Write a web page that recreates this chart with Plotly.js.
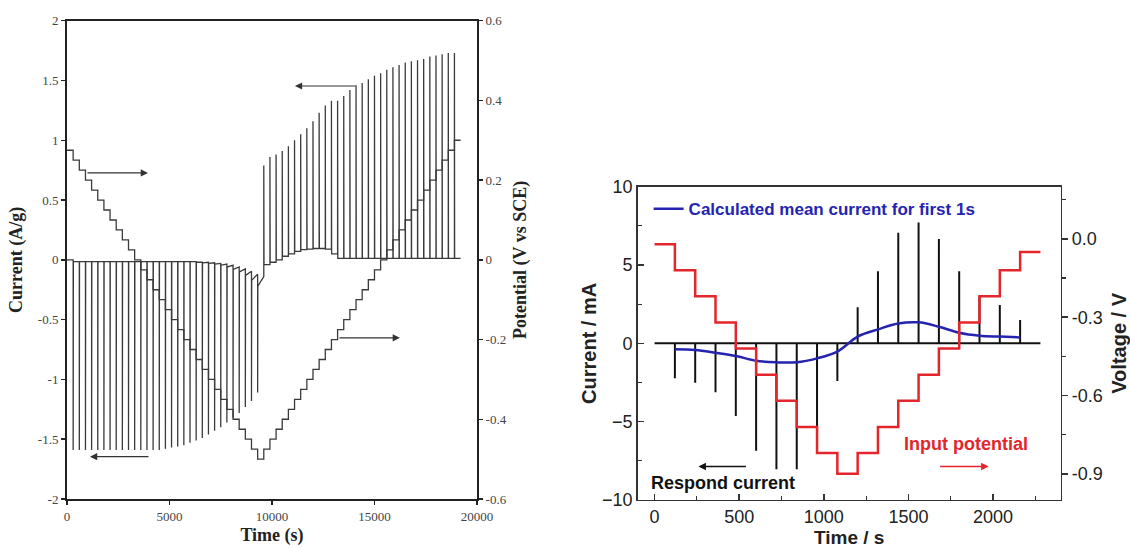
<!DOCTYPE html>
<html>
<head>
<meta charset="utf-8">
<script src="https://cdn.plot.ly/plotly-3.0.1.min.js"></script>
<style>
html,body{margin:0;padding:0;background:#fff;}
#chart{width:1130px;height:549px;}
</style>
</head>
<body>
<div id="chart"></div>
<script>
// ---------- LEFT PANEL DATA ----------
// Potential staircase (V vs SCE): step times (s) and levels
const potTimes = [0,300,600,900,1200,1500,1800,2100,2400,2700,3000,3300,3600,3900,4200,4500,4800,5100,5400,5700,6000,6300,6600,6900,7200,7500,7800,8100,8400,8700,9000,9300,
  9600,9900,10200,10500,10800,11100,11400,11700,12000,12300,12600,12900,13200,13500,13800,14100,14400,14700,15000,15300,15600,15900,16200,16500,16800,17100,17400,17700,18000,18300,18600,18900,19200];
const potLevels = [0.275,0.25,0.225,0.2,0.175,0.15,0.125,0.1,0.075,0.05,0.025,0,-0.025,-0.05,-0.075,-0.1,-0.125,-0.15,-0.175,-0.2,-0.225,-0.25,-0.275,-0.3,-0.325,-0.35,-0.375,-0.4,-0.425,-0.45,-0.475,-0.5,
  -0.475,-0.45,-0.425,-0.4,-0.375,-0.35,-0.325,-0.3,-0.275,-0.25,-0.225,-0.2,-0.175,-0.15,-0.125,-0.1,-0.075,-0.05,-0.025,0,0.025,0.05,0.075,0.1,0.125,0.15,0.175,0.2,0.225,0.25,0.275,0.3,0.3];

// Negative current spikes (A/g)
const negSpikeT = [300,600,900,1200,1500,1800,2100,2400,2700,3000,3300,3600,3900,4200,4500,4800,5100,5400,5700,6000,6300,6600,6900,7200,7500,7800,8100,8400,8700,9000,9300];
const negSpikePeak = [-1.59,-1.59,-1.59,-1.59,-1.59,-1.59,-1.59,-1.59,-1.59,-1.59,-1.59,-1.59,-1.59,-1.59,-1.59,-1.58,-1.57,-1.56,-1.55,-1.53,-1.51,-1.49,-1.46,-1.43,-1.40,-1.36,-1.32,-1.28,-1.23,-1.18,-1.11];
const negTailStart = [-0.015,-0.015,-0.015,-0.015,-0.015,-0.015,-0.015,-0.015,-0.015,-0.015,-0.015,-0.015,-0.015,-0.015,-0.015,-0.015,-0.015,-0.015,-0.015,-0.015,-0.02,-0.025,-0.03,-0.035,-0.045,-0.06,-0.08,-0.10,-0.13,-0.17,-0.22];
const negTailEnd = [-0.015,-0.015,-0.015,-0.015,-0.015,-0.015,-0.015,-0.015,-0.015,-0.015,-0.015,-0.015,-0.015,-0.015,-0.015,-0.015,-0.015,-0.015,-0.015,-0.015,-0.02,-0.02,-0.025,-0.03,-0.035,-0.045,-0.06,-0.075,-0.095,-0.12,-0.14];
// Positive current spikes (A/g)
const posSpikeT = [9600,9900,10200,10500,10800,11100,11400,11700,12000,12300,12600,12900,13200,13500,13800,14100,14400,14700,15000,15300,15600,15900,16200,16500,16800,17100,17400,17700,18000,18300,18600,18900];
const posSpikePeak = [0.79,0.86,0.88,0.91,0.95,1.00,1.05,1.10,1.16,1.23,1.29,1.33,1.33,1.37,1.42,1.46,1.48,1.51,1.54,1.56,1.59,1.61,1.63,1.65,1.66,1.67,1.68,1.70,1.71,1.72,1.73,1.73];
const posTail = [-0.04,-0.02,0.0,0.03,0.05,0.07,0.085,0.09,0.095,0.095,0.09,0.05,0.012,0.012,0.012,0.012,0.012,0.012,0.012,0.012,0.012,0.012,0.012,0.012,0.012,0.012,0.012,0.012,0.012,0.012,0.012,0.012];
const leftEndTime = 19200;

const leftXTicks = [0,5000,10000,15000,20000];
const leftXTickText = ['0','5000','10000','15000','20000'];
const leftYTicks = [2,1.5,1,0.5,0,-0.5,-1,-1.5,-2];
const leftYTickText = ['2','1.5','1','0.5','0','-0.5','-1','-1.5','-2'];
const potTicks = [0.6,0.4,0.2,0,-0.2,-0.4,-0.6];
const potTickText = ['0.6','0.4','0.2','0','-0.2','-0.4','-0.6'];

// ---------- RIGHT PANEL DATA ----------
const rSpikeT = [120,240,360,480,600,720,840,960,1080,1200,1320,1440,1560,1680,1800,1920,2040,2160];
const rSpikePeak = [-2.23,-2.51,-3.13,-4.64,-6.85,-8.04,-8.04,-5.90,-2.40,2.30,4.61,7.06,7.72,6.66,4.61,3.00,2.45,1.49];
const rMeanCurrent = [-0.38,-0.42,-0.60,-0.81,-1.11,-1.21,-1.21,-0.96,-0.53,0.43,0.89,1.27,1.34,1.06,0.68,0.49,0.43,0.38];
const rBaseStart = 0, rBaseEnd = 2280;
const vTimes = [0,120,240,360,480,600,720,840,960,1080,1200,1320,1440,1560,1680,1800,1920,2040,2160,2280];
const vLevels = [-0.02,-0.12,-0.22,-0.32,-0.42,-0.52,-0.62,-0.72,-0.82,-0.90,-0.82,-0.72,-0.62,-0.52,-0.42,-0.32,-0.22,-0.12,-0.05,-0.05];
const rXTicks = [0,500,1000,1500,2000];
const rYTicks = [-10,-5,0,5,10];
const vTicks = [0,-0.3,-0.6,-0.9];
const vTickText = ['0.0','-0.3','-0.6','-0.9'];

// ---------- build left current path ----------
const lcx = [0], lcy = [0];
let prev = 0;
for (let i = 0; i < negSpikeT.length; i++) {
  const t = negSpikeT[i];
  lcx.push(t, t, t + 10); lcy.push(prev, negSpikePeak[i], negTailStart[i]);
  prev = negTailEnd[i];
}
for (let i = 0; i < posSpikeT.length; i++) {
  const t = posSpikeT[i];
  lcx.push(t, t, t, t + 10); lcy.push(prev, prev, posSpikePeak[i], posTail[i]);
  prev = posTail[i];
}
lcx.push(leftEndTime); lcy.push(prev);

// ---------- build right current path ----------
const rcx = [rBaseStart], rcy = [0];
for (let i = 0; i < rSpikeT.length; i++) {
  rcx.push(rSpikeT[i], rSpikeT[i], rSpikeT[i]);
  rcy.push(0, rSpikePeak[i], 0);
}
rcx.push(rBaseEnd); rcy.push(0);

const serif = 'Liberation Serif, Times New Roman, serif';
const sans = 'Liberation Sans, Arial, Helvetica, sans-serif';
const BLUE = '#2424b0', RED = '#e2262c';

const traces = [
  {x: lcx, y: lcy, xaxis: 'x', yaxis: 'y', mode: 'lines', line: {color: '#3a3a3a', width: 1.3}, showlegend: false, name: 'Current'},
  {x: potTimes, y: potLevels, xaxis: 'x', yaxis: 'y2', mode: 'lines', line: {color: '#3a3a3a', width: 1.3, shape: 'hv'}, showlegend: false, name: 'Potential'},
  {x: rcx, y: rcy, xaxis: 'x2', yaxis: 'y3', mode: 'lines', line: {color: '#111', width: 2}, showlegend: false, name: 'Respond current'},
  {x: vTimes, y: vLevels, xaxis: 'x2', yaxis: 'y4', mode: 'lines', line: {color: RED, width: 2.5, shape: 'hv'}, showlegend: false, name: 'Input potential'},
  {x: rSpikeT, y: rMeanCurrent, xaxis: 'x2', yaxis: 'y3', mode: 'lines', line: {color: BLUE, width: 2.5, shape: 'spline', smoothing: 1}, showlegend: true, name: 'Calculated mean current for first 1s'}
];

const leftTickFont = {family: serif, size: 13, color: '#444'};
const rightTickFont = {family: sans, size: 18, color: '#222'};

const layout = {
  width: 1130, height: 549,
  margin: {l: 0, r: 0, t: 0, b: 0},
  paper_bgcolor: '#fff', plot_bgcolor: 'rgba(0,0,0,0)',
  showlegend: true,
  legend: {x: 0.574, y: 0.619, xanchor: 'left', yanchor: 'middle', bgcolor: 'rgba(0,0,0,0)',
           font: {family: sans, size: 17, weight: 'bold', color: BLUE}},
  xaxis: {domain: [0.0593, 0.4221], range: [0, 20000], anchor: 'y',
          tickvals: leftXTicks, ticktext: leftXTickText, ticks: 'outside', ticklen: 4, tickwidth: 1.5, tickcolor: '#222',
          showline: true, linewidth: 2, linecolor: '#222', mirror: true, showgrid: false, zeroline: false,
          tickfont: leftTickFont,
          title: {text: 'Time (s)', font: {family: serif, size: 18, weight: 'bold', color: '#222'}, standoff: 6}},
  yaxis: {domain: [0.0911, 0.9623], range: [-2, 2], anchor: 'x',
          tickvals: leftYTicks, ticktext: leftYTickText, ticks: 'outside', ticklen: 4, tickwidth: 1.5, tickcolor: '#222',
          showline: true, linewidth: 2, linecolor: '#222', showgrid: false, zeroline: false,
          tickfont: leftTickFont,
          title: {text: 'Current (A/g)', font: {family: serif, size: 18, weight: 'bold', color: '#222'}, standoff: 11}},
  yaxis2: {overlaying: 'y', side: 'right', anchor: 'x', range: [-0.6, 0.6],
           tickvals: potTicks, ticktext: potTickText, ticks: 'outside', ticklen: 4, tickwidth: 1.5, tickcolor: '#222',
           showline: true, linewidth: 2, linecolor: '#222', showgrid: false, zeroline: false,
           tickfont: leftTickFont,
           title: {text: 'Potential (V vs SCE)', font: {family: serif, size: 18, weight: 'bold', color: '#222'}, standoff: 8}},
  xaxis2: {domain: [0.5643, 0.9387], range: [-100, 2400], anchor: 'y3',
           tickvals: rXTicks, ticks: 'inside', ticklen: 6, tickwidth: 1.5, tickcolor: '#333',
           minor: {tickvals: [250,750,1250,1750,2250], ticks: 'inside', ticklen: 4, tickwidth: 1.2, tickcolor: '#333', showgrid: false},
           showline: true, linewidth: 1.5, linecolor: '#333', mirror: true, showgrid: false, zeroline: false,
           tickfont: rightTickFont,
           title: {text: 'Time / s', font: {family: sans, size: 19, weight: 'bold', color: '#222'}, standoff: 4}},
  yaxis3: {domain: [0.0893, 0.6599], range: [-10, 10], anchor: 'x2',
           tickvals: rYTicks, ticks: 'inside', ticklen: 6, tickwidth: 1.5, tickcolor: '#333',
           minor: {tickvals: [-7.5,-2.5,2.5,7.5], ticks: 'inside', ticklen: 4, tickwidth: 1.2, tickcolor: '#333', showgrid: false},
           showline: true, linewidth: 1.5, linecolor: '#333', showgrid: false, zeroline: false,
           tickfont: rightTickFont,
           title: {text: 'Current / mA', font: {family: sans, size: 20, weight: 'bold', color: '#222'}, standoff: 0}},
  yaxis4: {overlaying: 'y3', side: 'right', anchor: 'x2', range: [-1.0, 0.2],
           tickvals: vTicks, ticktext: vTickText, ticks: 'outside', ticklen: 6, tickwidth: 1.5, tickcolor: '#333',
           minor: {tickvals: [0.15,-0.15,-0.45,-0.75], ticks: 'outside', ticklen: 4, tickwidth: 1.2, tickcolor: '#333', showgrid: false},
           showline: true, linewidth: 1.5, linecolor: '#333', showgrid: false, zeroline: false,
           tickfont: rightTickFont,
           title: {text: 'Voltage / V', font: {family: sans, size: 20, weight: 'bold', color: '#222'}, standoff: 10}},
  annotations: [
    // left panel arrows
    {xref: 'x', yref: 'y', x: 3950, y: 0.727, ax: -62, ay: 0, text: '', showarrow: true, arrowhead: 2, arrowsize: 1.2, arrowwidth: 1.2, arrowcolor: '#333'},
    {xref: 'x', yref: 'y', x: 11120, y: 1.454, ax: 62, ay: 0, text: '', showarrow: true, arrowhead: 2, arrowsize: 1.2, arrowwidth: 1.2, arrowcolor: '#333'},
    {xref: 'x', yref: 'y', x: 1120, y: -1.646, ax: 60, ay: 0, text: '', showarrow: true, arrowhead: 2, arrowsize: 1.2, arrowwidth: 1.2, arrowcolor: '#333'},
    {xref: 'x', yref: 'y', x: 16240, y: -0.652, ax: -62, ay: 0, text: '', showarrow: true, arrowhead: 2, arrowsize: 1.2, arrowwidth: 1.2, arrowcolor: '#333'},
    // right panel arrows and labels
    {xref: 'x2', yref: 'y3', x: 259, y: -7.87, ax: 49, ay: 0, text: '', showarrow: true, arrowhead: 2, arrowsize: 1, arrowwidth: 1.5, arrowcolor: '#111'},
    {xref: 'x2', yref: 'y3', x: 1974, y: -7.87, ax: -50, ay: 0, text: '', showarrow: true, arrowhead: 2, arrowsize: 1, arrowwidth: 1.5, arrowcolor: RED},
    {xref: 'x2', yref: 'y3', x: -31, y: -8.92, xanchor: 'left', yanchor: 'middle', text: 'Respond current', showarrow: false,
     font: {family: sans, size: 18, weight: 'bold', color: '#111'}},
    {xref: 'x2', yref: 'y3', x: 1464, y: -6.43, xanchor: 'left', yanchor: 'middle', text: 'Input potential', showarrow: false,
     font: {family: sans, size: 18, weight: 'bold', color: RED}}
  ]
};

Plotly.newPlot('chart', traces, layout, {displayModeBar: false, staticPlot: true});
</script>
</body>
</html>
